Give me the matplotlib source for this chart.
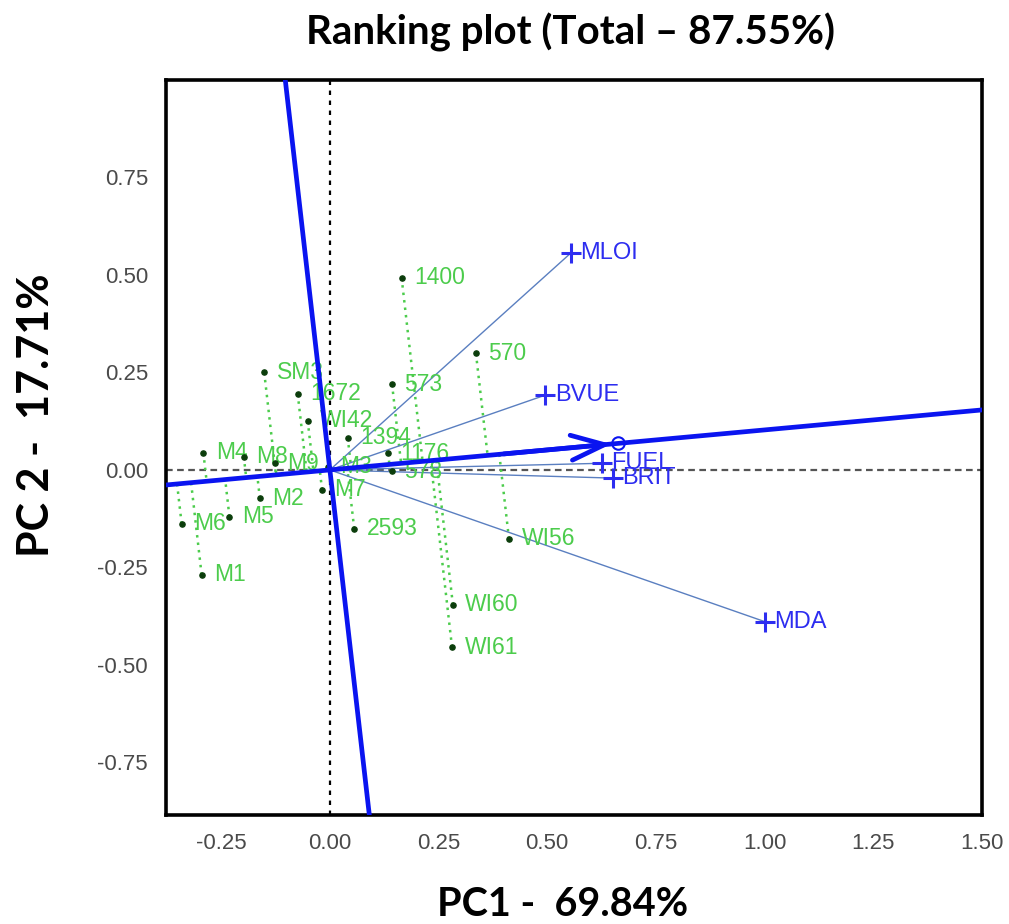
import numpy as np
import matplotlib.pyplot as plt

# genotype scores (PC1, PC2)
genotypes = ['1400', '570', '573', 'SM3', '1672', 'WI42', '1394', '1176', '578',
             'M4', 'M8', 'M9', 'M3', 'M2', 'M7', 'M5', 'M6', 'M1', '2593',
             'WI56', 'WI60', 'WI61']
gen_pc1 = [0.165, 0.336, 0.143, -0.151, -0.074, -0.051, 0.041, 0.134, 0.142,
           -0.291, -0.198, -0.126, -0.005, -0.161, -0.018, -0.231, -0.341, -0.295, 0.056,
           0.412, 0.283, 0.281]
gen_pc2 = [0.493, 0.299, 0.220, 0.250, 0.195, 0.126, 0.083, 0.043, -0.003,
           0.044, 0.034, 0.017, 0.008, -0.073, -0.051, -0.120, -0.138, -0.269, -0.151,
           -0.177, -0.346, -0.455]

# trait vectors
traits = ['MLOI', 'BVUE', 'FUEL', 'BRIT', 'MDA']
trait_pc1 = [0.554, 0.496, 0.625, 0.651, 1.000]
trait_pc2 = [0.556, 0.192, 0.017, -0.021, -0.389]

# average axis point (arrow tip)
avg_pc1, avg_pc2 = 0.663, 0.068

x_ticks = [-0.25, 0.00, 0.25, 0.50, 0.75, 1.00, 1.25, 1.50]
y_ticks = [-0.75, -0.50, -0.25, 0.00, 0.25, 0.50, 0.75]

green = '#4ccc4c'
blue = '#2d2df0'

fig = plt.figure(figsize=(10.09, 9.24), dpi=100)
ax = fig.add_axes([0.1645, 0.118, 0.8087, 0.7954])

# dashed reference axes
ax.axhline(0, color='#555555', lw=1.6, ls=(0, (3, 2)), zorder=1)
ax.axvline(0, color='black', lw=1.6, ls=(0, (2, 2.5)), zorder=1)

# projection of each genotype onto the average axis
u = np.array([avg_pc1, avg_pc2])
u = u / np.linalg.norm(u)
for name, x, y in zip(genotypes, gen_pc1, gen_pc2):
    t = x * u[0] + y * u[1]
    ax.plot([x, t * u[0]], [y, t * u[1]], color=green, lw=1.8,
            ls=(0, (1, 2)), zorder=2)
    ax.annotate(name, (x, y), xytext=(9, 0), textcoords='offset points',
                va='center', ha='left', color=green, fontsize=16.5,
                family='Liberation Sans', zorder=4)
ax.scatter(gen_pc1, gen_pc2, s=14, color='#0b3d0b', zorder=5)

# trait vectors
for name, x, y in zip(traits, trait_pc1, trait_pc2):
    ax.plot([0, x], [0, y], color='#5a7fc0', lw=1.0, zorder=3)
    ax.plot(x, y, marker='+', ms=14, mew=2.2, color=blue, zorder=6)
    ax.annotate(name, (x, y), xytext=(7, 0), textcoords='offset points',
                va='center', ha='left', color=blue, fontsize=17,
                family='Liberation Sans', zorder=6)

# average axis and its perpendicular
ax.axline((0, 0), (avg_pc1, avg_pc2), color='#0a14f0', lw=3.4, zorder=7)
ax.axline((0, 0), (-avg_pc2, avg_pc1), color='#0a14f0', lw=3.4, zorder=7)
ax.plot(avg_pc1, avg_pc2, marker='o', ms=9, mfc='none', mec='#0a14f0', mew=1.5, zorder=8)
ax.annotate('', xy=(avg_pc1, avg_pc2), xytext=(0.4, 0.4 * avg_pc2 / avg_pc1),
            arrowprops=dict(arrowstyle='->,head_length=2.4,head_width=0.9',
                            lw=3.4, color='#0a14f0', shrinkA=0, shrinkB=5),
            zorder=8)

ax.set_xlim(-0.377, 1.50)
ax.set_ylim(-0.885, 1.00)
ax.set_xticks(x_ticks)
ax.set_yticks(y_ticks)
ax.set_xticklabels([f'{v:.2f}' for v in x_ticks])
ax.set_yticklabels([f'{v:.2f}' for v in y_ticks])
ax.tick_params(length=0, labelsize=16, labelcolor='#4a4a4a', pad=13)
for lab in ax.get_xticklabels() + ax.get_yticklabels():
    lab.set_family('Liberation Sans')
for sp in ax.spines.values():
    sp.set_linewidth(2.6)

fig.text(0.565, 0.965, 'Ranking plot (Total \u2013 87.55%)', ha='center', va='center',
         fontsize=29, fontweight='bold', family='Lato')
fig.text(0.558, 0.021, 'PC1 -  69.84%', ha='center', va='center',
         fontsize=28.5, fontweight='bold', family='Lato')
fig.text(0.036, 0.551, 'PC 2 -  17.71%', ha='center', va='center', rotation=90,
         fontsize=31, fontweight='bold', family='Lato')

fig.savefig('out.png', dpi=100)
